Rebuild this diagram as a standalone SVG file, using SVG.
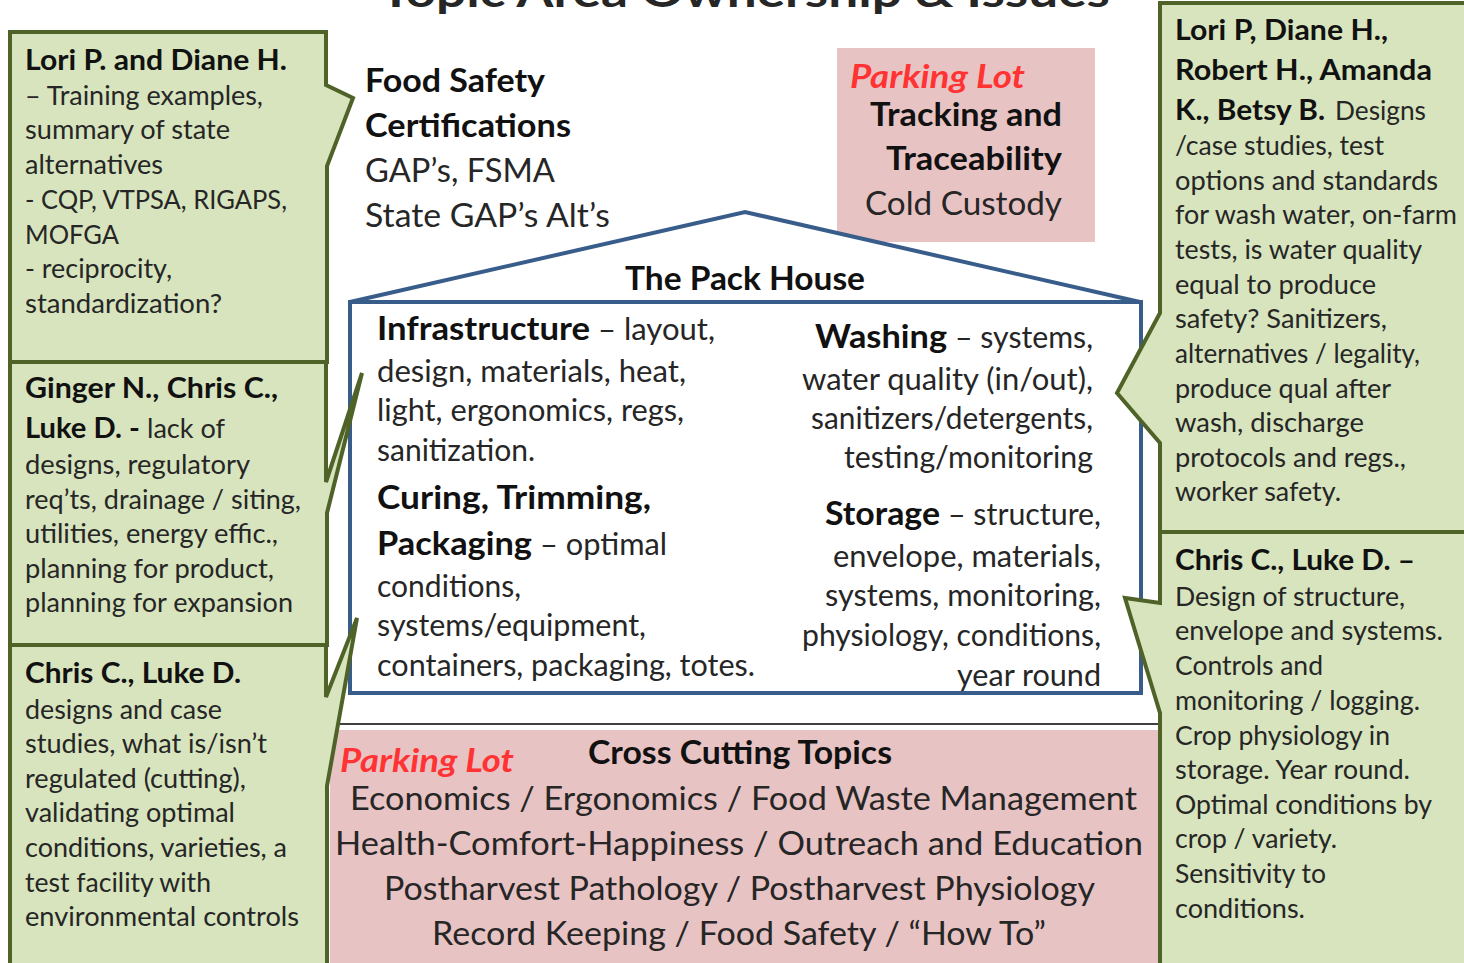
<svg xmlns="http://www.w3.org/2000/svg" width="1464" height="963" viewBox="0 0 1464 963">
<style>
.cl{fill:#d7e4bd;stroke:#4f6228;stroke-width:4;stroke-linejoin:miter}
.t{font-family:Lato,"Open Sans",sans-serif;fill:#262626}
.c{font-size:26.5px}
.cb{font-size:28px;font-weight:bold;fill:#111}
.h{font-size:30.5px}
.hb{font-size:32px;font-weight:bold;fill:#111}
.big{font-size:32px}
.bigb{font-size:33px;font-weight:bold;fill:#111}
.pl{fill:#ff3333;font-style:italic;font-weight:bold;font-size:32px}
.house{fill:#fff;stroke:#385d8a;stroke-width:4}
.pink{fill:#e8c3c3}
</style>
<rect width="1464" height="963" fill="#fff"/>
<text class="t" x="745" y="7" font-size="42" font-weight="bold" fill="#111" text-anchor="middle" textLength="730" lengthAdjust="spacingAndGlyphs">Topic Area Ownership &amp; Issues</text>

<g id="food-safety">
<text class="t bigb" x="365" y="92" textLength="180" lengthAdjust="spacingAndGlyphs">Food Safety</text>
<text class="t bigb" x="365" y="137" textLength="206" lengthAdjust="spacingAndGlyphs">Certifications</text>
<text class="t big" x="365" y="182" textLength="190" lengthAdjust="spacingAndGlyphs">GAP’s, FSMA</text>
<text class="t big" x="365" y="227" textLength="245" lengthAdjust="spacingAndGlyphs">State GAP’s Alt’s</text>
</g>

<g id="parking-lot-top">
<rect class="pink" x="837" y="48" width="258" height="194"/>
<text class="t pl" x="850" y="88" font-size="31" textLength="175" lengthAdjust="spacingAndGlyphs">Parking Lot</text>
<text class="t bigb" x="870" y="126" textLength="192" lengthAdjust="spacingAndGlyphs">Tracking and</text>
<text class="t bigb" x="886" y="170" textLength="176" lengthAdjust="spacingAndGlyphs">Traceability</text>
<text class="t big" x="865" y="215" textLength="197" lengthAdjust="spacingAndGlyphs">Cold Custody</text>
</g>

<g id="pack-house">
<path class="house" d="M350,302 L745,212 L1140,302 Z"/>
<rect class="house" x="350" y="302" width="791" height="391"/>
<text class="t bigb" x="625" y="290" textLength="240" lengthAdjust="spacingAndGlyphs">The Pack House</text>
<text class="t hb" x="377" y="340" textLength="213" lengthAdjust="spacingAndGlyphs">Infrastructure</text>
<text class="t h" x="598" y="340" textLength="117" lengthAdjust="spacingAndGlyphs">– layout,</text>
<text class="t h" x="377" y="382" textLength="309" lengthAdjust="spacingAndGlyphs">design, materials, heat,</text>
<text class="t h" x="377" y="421" textLength="307" lengthAdjust="spacingAndGlyphs">light, ergonomics, regs,</text>
<text class="t h" x="377" y="461" textLength="158" lengthAdjust="spacingAndGlyphs">sanitization.</text>
<text class="t hb" x="377" y="509" textLength="274" lengthAdjust="spacingAndGlyphs">Curing, Trimming,</text>
<text class="t hb" x="377" y="555" textLength="155" lengthAdjust="spacingAndGlyphs">Packaging</text>
<text class="t h" x="540" y="555" textLength="127" lengthAdjust="spacingAndGlyphs">– optimal</text>
<text class="t h" x="377" y="597" textLength="144" lengthAdjust="spacingAndGlyphs">conditions,</text>
<text class="t h" x="377" y="636" textLength="269" lengthAdjust="spacingAndGlyphs">systems/equipment,</text>
<text class="t h" x="377" y="676" textLength="378" lengthAdjust="spacingAndGlyphs">containers, packaging, totes.</text>
<text class="t hb" x="815" y="348" textLength="132" lengthAdjust="spacingAndGlyphs">Washing</text>
<text class="t h" x="955" y="348" textLength="138" lengthAdjust="spacingAndGlyphs">– systems,</text>
<text class="t h" x="802" y="390" textLength="291" lengthAdjust="spacingAndGlyphs">water quality (in/out),</text>
<text class="t h" x="811" y="429" textLength="282" lengthAdjust="spacingAndGlyphs">sanitizers/detergents,</text>
<text class="t h" x="844" y="468" textLength="249" lengthAdjust="spacingAndGlyphs">testing/monitoring</text>
<text class="t hb" x="825" y="525" textLength="115" lengthAdjust="spacingAndGlyphs">Storage</text>
<text class="t h" x="948" y="525" textLength="153" lengthAdjust="spacingAndGlyphs">– structure,</text>
<text class="t h" x="833" y="567" textLength="268" lengthAdjust="spacingAndGlyphs">envelope,  materials,</text>
<text class="t h" x="825" y="606" textLength="276" lengthAdjust="spacingAndGlyphs">systems, monitoring,</text>
<text class="t h" x="802" y="646" textLength="299" lengthAdjust="spacingAndGlyphs">physiology, conditions,</text>
<text class="t h" x="957" y="686" textLength="144" lengthAdjust="spacingAndGlyphs">year round</text>
</g>

<g id="cross-cutting">
<line x1="340" y1="724" x2="1160" y2="724" stroke="#000" stroke-width="1.5"/>
<rect class="pink" x="330" y="730" width="830" height="240"/>
<text class="t pl" x="340" y="772" textLength="174" lengthAdjust="spacingAndGlyphs">Parking Lot</text>
<text class="t bigb" x="588" y="764" textLength="304" lengthAdjust="spacingAndGlyphs">Cross Cutting Topics</text>
<text class="t big" x="350" y="810" textLength="787" lengthAdjust="spacingAndGlyphs">Economics / Ergonomics / Food Waste Management</text>
<text class="t big" x="335" y="855" textLength="808" lengthAdjust="spacingAndGlyphs">Health-Comfort-Happiness  / Outreach and Education</text>
<text class="t big" x="384" y="900" textLength="711" lengthAdjust="spacingAndGlyphs">Postharvest Pathology / Postharvest Physiology</text>
<text class="t big" x="432" y="945" textLength="614" lengthAdjust="spacingAndGlyphs">Record Keeping / Food Safety / “How To”</text>
</g>

<g id="callout-l1">
<path class="cl" d="M10,32 H326 V85 L353,98 L327,166 V362 H10 Z"/>
<text class="t cb" x="25" y="70" textLength="262" lengthAdjust="spacingAndGlyphs">Lori P. and Diane H.</text>
<text class="t c" x="25" y="105" textLength="238" lengthAdjust="spacingAndGlyphs">– Training examples,</text>
<text class="t c" x="25" y="139" textLength="205" lengthAdjust="spacingAndGlyphs">summary of state</text>
<text class="t c" x="25" y="174" textLength="138" lengthAdjust="spacingAndGlyphs">alternatives</text>
<text class="t c" x="25" y="209" textLength="262" lengthAdjust="spacingAndGlyphs">- CQP, VTPSA, RIGAPS,</text>
<text class="t c" x="25" y="244" textLength="94" lengthAdjust="spacingAndGlyphs">MOFGA</text>
<text class="t c" x="25" y="278" textLength="147" lengthAdjust="spacingAndGlyphs">- reciprocity,</text>
<text class="t c" x="25" y="313" textLength="197" lengthAdjust="spacingAndGlyphs">standardization?</text>
</g>

<g id="callout-l2">
<path class="cl" d="M10,362 H326 V482 L362,373 L327,513 V645 H10 Z"/>
<text class="t cb" x="25" y="398" textLength="253" lengthAdjust="spacingAndGlyphs">Ginger N., Chris C.,</text>
<text class="t cb" x="25" y="438" textLength="115" lengthAdjust="spacingAndGlyphs">Luke D. -</text>
<text class="t c" x="147" y="438" textLength="78" lengthAdjust="spacingAndGlyphs">lack of</text>
<text class="t c" x="25" y="474" textLength="225" lengthAdjust="spacingAndGlyphs">designs, regulatory</text>
<text class="t c" x="25" y="509" textLength="276" lengthAdjust="spacingAndGlyphs">req’ts, drainage / siting,</text>
<text class="t c" x="25" y="543" textLength="253" lengthAdjust="spacingAndGlyphs">utilities, energy effic.,</text>
<text class="t c" x="25" y="578" textLength="249" lengthAdjust="spacingAndGlyphs">planning for product,</text>
<text class="t c" x="25" y="612" textLength="268" lengthAdjust="spacingAndGlyphs">planning for expansion</text>
</g>

<g id="callout-l3">
<path class="cl" d="M10,645 H326 V697 L357,618 L327,786 V975 H10 Z"/>
<text class="t cb" x="25" y="683" textLength="216" lengthAdjust="spacingAndGlyphs">Chris C., Luke D.</text>
<text class="t c" x="25" y="719" textLength="197" lengthAdjust="spacingAndGlyphs">designs and case</text>
<text class="t c" x="25" y="753" textLength="242" lengthAdjust="spacingAndGlyphs">studies, what is/isn’t</text>
<text class="t c" x="25" y="788" textLength="221" lengthAdjust="spacingAndGlyphs">regulated (cutting),</text>
<text class="t c" x="25" y="822" textLength="210" lengthAdjust="spacingAndGlyphs">validating optimal</text>
<text class="t c" x="25" y="857" textLength="262" lengthAdjust="spacingAndGlyphs">conditions, varieties, a</text>
<text class="t c" x="25" y="892" textLength="186" lengthAdjust="spacingAndGlyphs">test facility with</text>
<text class="t c" x="25" y="926" textLength="274" lengthAdjust="spacingAndGlyphs">environmental controls</text>
</g>

<g id="callout-r1">
<path class="cl" d="M1160,3 H1475 V532 H1160 V443 L1117,393 L1160,313 Z"/>
<text class="t cb" x="1175" y="40" textLength="213" lengthAdjust="spacingAndGlyphs">Lori P, Diane H.,</text>
<text class="t cb" x="1175" y="80" textLength="257" lengthAdjust="spacingAndGlyphs">Robert H., Amanda</text>
<text class="t cb" x="1175" y="120" textLength="150" lengthAdjust="spacingAndGlyphs">K., Betsy B.</text>
<text class="t c" x="1335" y="120" textLength="91" lengthAdjust="spacingAndGlyphs">Designs</text>
<text class="t c" x="1175" y="155" textLength="209" lengthAdjust="spacingAndGlyphs">/case studies, test</text>
<text class="t c" x="1175" y="190" textLength="263" lengthAdjust="spacingAndGlyphs">options and standards</text>
<text class="t c" x="1175" y="224" textLength="282" lengthAdjust="spacingAndGlyphs">for wash water, on-farm</text>
<text class="t c" x="1175" y="259" textLength="247" lengthAdjust="spacingAndGlyphs">tests, is water quality</text>
<text class="t c" x="1175" y="294" textLength="201" lengthAdjust="spacingAndGlyphs">equal to produce</text>
<text class="t c" x="1175" y="328" textLength="212" lengthAdjust="spacingAndGlyphs">safety? Sanitizers,</text>
<text class="t c" x="1175" y="363" textLength="245" lengthAdjust="spacingAndGlyphs">alternatives / legality,</text>
<text class="t c" x="1175" y="398" textLength="216" lengthAdjust="spacingAndGlyphs">produce qual after</text>
<text class="t c" x="1175" y="432" textLength="189" lengthAdjust="spacingAndGlyphs">wash, discharge</text>
<text class="t c" x="1175" y="467" textLength="231" lengthAdjust="spacingAndGlyphs">protocols and regs.,</text>
<text class="t c" x="1175" y="501" textLength="166" lengthAdjust="spacingAndGlyphs">worker safety.</text>
</g>

<g id="callout-r2">
<path class="cl" d="M1160,532 H1475 V975 H1160 V713 L1125,598 L1160,603 Z"/>
<text class="t cb" x="1175" y="570" textLength="240" lengthAdjust="spacingAndGlyphs">Chris C., Luke D. –</text>
<text class="t c" x="1175" y="606" textLength="230" lengthAdjust="spacingAndGlyphs">Design of structure,</text>
<text class="t c" x="1175" y="640" textLength="268" lengthAdjust="spacingAndGlyphs">envelope and systems.</text>
<text class="t c" x="1175" y="675" textLength="148" lengthAdjust="spacingAndGlyphs">Controls and</text>
<text class="t c" x="1175" y="710" textLength="245" lengthAdjust="spacingAndGlyphs">monitoring / logging.</text>
<text class="t c" x="1175" y="745" textLength="215" lengthAdjust="spacingAndGlyphs">Crop physiology in</text>
<text class="t c" x="1175" y="779" textLength="235" lengthAdjust="spacingAndGlyphs">storage. Year round.</text>
<text class="t c" x="1175" y="814" textLength="257" lengthAdjust="spacingAndGlyphs">Optimal conditions by</text>
<text class="t c" x="1175" y="848" textLength="162" lengthAdjust="spacingAndGlyphs">crop / variety.</text>
<text class="t c" x="1175" y="883" textLength="151" lengthAdjust="spacingAndGlyphs">Sensitivity to</text>
<text class="t c" x="1175" y="918" textLength="130" lengthAdjust="spacingAndGlyphs">conditions.</text>
</g>
</svg>
